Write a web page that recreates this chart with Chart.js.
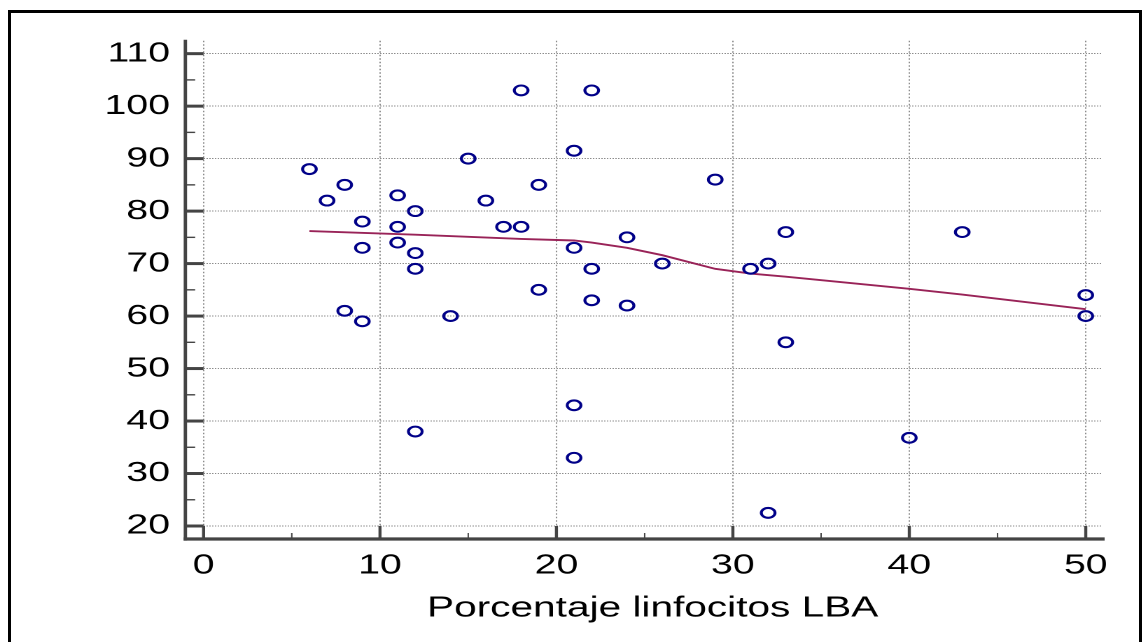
<!DOCTYPE html>
<html lang="es">
<head>
  <meta charset="UTF-8" />
  <title>Porcentaje linfocitos LBA</title>
  <script src="https://cdn.jsdelivr.net/npm/chart.js"></script>
  <style>
    html, body { margin: 0; background: #fff; overflow: hidden; }
    #frame { position: absolute; left: 8px; top: 10px; width: 1134px; height: 700px; border: 3px solid #000; box-sizing: border-box; }
    /* the reference picture is stretched sideways, so the chart is drawn narrow and widened */
    #wrap { position: absolute; left: 0; top: 0; width: 817px; height: 642px; transform: scaleX(1.4); transform-origin: 0 0; }
  </style>
</head>
<body>
  <div id="frame"></div>
  <div id="wrap"><canvas id="chart" width="817" height="642"></canvas></div>

  <script>
    // observations
    const ptsX = [6, 7, 8, 8, 9, 9, 9, 11, 11, 11, 12, 12, 12, 12, 14, 15, 16, 17, 18, 18, 19,
                  19, 21, 21, 21, 21, 22, 22, 22, 24, 24, 26, 29, 31, 32, 33, 33, 32, 40, 43, 50, 50];
    const ptsY = [88, 82, 85, 61, 78, 73, 59, 83, 77, 74, 80, 72, 69, 38, 60, 90, 82, 77, 77, 103, 85,
                  65, 91.5, 73, 43, 33, 103, 69, 63, 75, 62, 70, 86, 69, 70, 76, 55, 22.5, 36.8, 76, 64, 60];

    // smoothed trend line
    const fitX = [6, 12, 18, 21, 22, 24, 26, 29, 31, 33, 40, 43, 50];
    const fitY = [76.2, 75.5, 74.7, 74.4, 74.0, 73.0, 71.6, 69.0, 68.1, 67.5, 65.2, 64.1, 61.3];

    // axis ticks
    const xTicks = [0, 10, 20, 30, 40, 50];
    const xMinor = [5, 15, 25, 35, 45];
    const yTicks = [20, 30, 40, 50, 60, 70, 80, 90, 100, 110];
    const yMinor = [25, 35, 45, 55, 65, 75, 85, 95, 105];

    const xTitle = 'Porcentaje linfocitos LBA';

    const FONT = "'Liberation Sans', Arial, sans-serif";
    const GAP = 13; // axis lines sit a little outside the plot area

    // draws the offset axis lines with inward major and minor ticks
    const axisLines = {
      id: 'axisLines',
      afterDraw(chart) {
        const { ctx, chartArea: a, scales: { x, y } } = chart;
        const ax = a.left - GAP, ay = a.bottom + GAP;
        const seg = (x1, y1, x2, y2) => { ctx.beginPath(); ctx.moveTo(x1, y1); ctx.lineTo(x2, y2); ctx.stroke(); };
        ctx.save();
        ctx.strokeStyle = '#444';
        ctx.lineWidth = 2.4;
        seg(ax, a.top - 1, ax, ay + 1.6);
        ctx.lineWidth = 3.3;
        seg(ax - 1.2, ay, a.right + 2, ay);

        ctx.lineWidth = 3;
        yTicks.forEach(v => { const py = y.getPixelForValue(v); seg(ax, py, a.left, py); });
        ctx.lineWidth = 1.4;
        yMinor.forEach(v => { const py = y.getPixelForValue(v); seg(ax, py, ax + 7, py); });

        ctx.lineWidth = 2.2;
        xTicks.forEach(v => { const px = x.getPixelForValue(v); seg(px, ay, px, a.bottom); });
        ctx.lineWidth = 1;
        xMinor.forEach(v => { const px = x.getPixelForValue(v); seg(px, ay, px, ay - 6); });
        ctx.restore();
      }
    };

    new Chart(document.getElementById('chart'), {
      type: 'scatter',
      data: {
        datasets: [
          {
            data: ptsX.map((v, i) => ({ x: v, y: ptsY[i] })),
            pointRadius: 4.9,
            pointBorderWidth: 2.1,
            pointBorderColor: '#000088',
            pointBackgroundColor: 'rgba(0,0,0,0)',
            order: 1
          },
          {
            type: 'line',
            data: fitX.map((v, i) => ({ x: v, y: fitY[i] })),
            borderColor: '#992358',
            borderWidth: 1.9,
            pointRadius: 0,
            tension: 0,
            fill: false,
            order: 2
          }
        ]
      },
      options: {
        responsive: false,
        animation: false,
        devicePixelRatio: 2,
        layout: { padding: { top: 34, right: 30, left: 0, bottom: 0 } },
        plugins: { legend: { display: false }, tooltip: { enabled: false } },
        scales: {
          x: {
            type: 'linear',
            min: 0,
            max: 50.91,
            afterBuildTicks: s => { s.ticks = xTicks.map(v => ({ value: v })); },
            afterFit: s => { s.height = 116; },
            grid: { color: '#8c8c8c', lineWidth: 1, drawTicks: false },
            border: { display: false, dash: [1.5, 2] },
            ticks: { font: { family: FONT, size: 28 }, color: '#000', padding: 23, maxRotation: 0 },
            title: {
              display: true,
              text: xTitle,
              font: { family: FONT, size: 29 },
              color: '#000',
              padding: { top: 0, bottom: 16 }
            }
          },
          y: {
            type: 'linear',
            min: 20,
            max: 112.45,
            afterBuildTicks: s => { s.ticks = yTicks.map(v => ({ value: v })); },
            afterFit: s => { s.width = 145.4; },
            grid: { color: '#8c8c8c', lineWidth: 1, drawTicks: false },
            border: { display: false, dash: [1, 1] },
            ticks: { font: { family: FONT, size: 28 }, color: '#000', padding: 24 }
          }
        }
      },
      plugins: [axisLines]
    });
  </script>
</body>
</html>
